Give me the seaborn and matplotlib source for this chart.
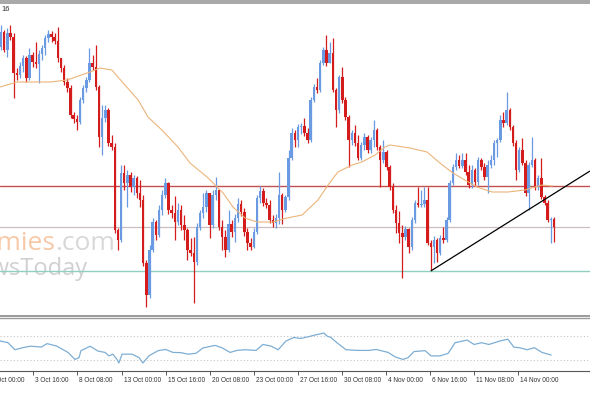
import numpy as np
import pandas as pd
import matplotlib
matplotlib.use("Agg")
import matplotlib.pyplot as plt
import matplotlib.transforms as mtransforms
from matplotlib.patches import Rectangle
import seaborn as sns

sns.set_style("white")
plt.rcParams['font.family'] = ['Liberation Sans', 'DejaVu Sans']

# ---------------- data (price units, arbitrary scale) ----------------
first_open = 273
close = [288, 270, 287, 283, 247, 245, 254, 262, 242, 265, 258, 256, 266, 272, 282, 286, 283, 279, 262, 252,
         238, 232, 205, 201, 198, 220, 232, 240, 257, 253, 233, 183, 202, 210, 177, 173, 90, 80, 147, 137,
         145, 133, 142, 127, 120, 57, 25, 70, 98, 85, 110, 125, 137, 110, 107, 98, 110, 95, 90, 70,
         67, 58, 93, 107, 113, 127, 95, 125, 130, 93, 83, 70, 96, 88, 102, 116, 108, 88, 77, 73,
         88, 122, 129, 117, 115, 100, 97, 102, 125, 110, 123, 162, 187, 180, 193, 194, 187, 180, 220, 233,
         230, 257, 270, 257, 267, 230, 210, 243, 220, 203, 180, 187, 177, 162, 175, 183, 170, 180, 190, 173,
         160, 168, 153, 133, 110, 97, 87, 83, 91, 73, 100, 117, 115, 116, 120, 77, 73, 80, 67, 82,
         80, 100, 137, 153, 160, 154, 160, 148, 135, 150, 138, 160, 153, 143, 155, 160, 177, 180, 200, 197,
         210, 193, 177, 150, 170, 157, 127, 155, 160, 133, 142, 123, 117, 100, 101, 93]
high = [295, 290, 292, 295, 287, 252, 258, 265, 264, 272, 268, 278, 270, 275, 285, 290, 289, 287, 293, 262,
        255, 242, 235, 208, 205, 223, 235, 243, 272, 265, 275, 235, 215, 215, 212, 185, 177, 92, 155, 155,
        150, 148, 145, 144, 140, 125, 60, 75, 102, 100, 115, 130, 142, 138, 115, 124, 117, 115, 105, 92,
        82, 83, 97, 110, 127, 130, 125, 130, 143, 130, 100, 90, 110, 100, 106, 122, 120, 112, 92, 82,
        92, 125, 134, 132, 122, 120, 105, 106, 148, 127, 125, 170, 192, 190, 196, 197, 202, 192, 223, 236,
        242, 260, 273, 285, 278, 282, 232, 245, 253, 223, 205, 190, 195, 185, 178, 187, 185, 183, 200, 192,
        175, 180, 170, 155, 137, 115, 109, 95, 94, 92, 103, 120, 133, 130, 133, 133, 80, 84, 82, 85,
        93, 103, 140, 156, 167, 165, 167, 167, 155, 155, 152, 163, 162, 157, 160, 165, 180, 182, 205, 208,
        228, 212, 195, 180, 173, 182, 160, 158, 183, 162, 145, 162, 125, 120, 103, 103]
low = [270, 268, 263, 280, 222, 240, 242, 248, 238, 240, 253, 252, 237, 260, 265, 278, 278, 276, 258, 248,
       235, 228, 202, 197, 190, 196, 217, 228, 238, 250, 230, 173, 165, 198, 174, 170, 87, 70, 78, 130,
       113, 128, 125, 122, 113, 54, 13, 22, 68, 80, 83, 105, 122, 106, 102, 80, 95, 90, 80, 60,
       64, 17, 55, 90, 102, 108, 82, 92, 120, 90, 70, 63, 68, 83, 78, 98, 104, 84, 70, 70,
       72, 86, 117, 114, 112, 97, 93, 92, 96, 96, 108, 120, 160, 173, 173, 186, 184, 177, 178, 218,
       227, 228, 255, 254, 257, 228, 193, 207, 217, 200, 153, 175, 174, 160, 160, 170, 167, 167, 173, 170,
       133, 157, 150, 130, 107, 87, 77, 42, 80, 67, 70, 97, 113, 113, 113, 75, 50, 57, 58, 65,
       77, 78, 98, 135, 150, 152, 152, 145, 132, 132, 134, 135, 150, 140, 127, 152, 155, 163, 178, 193,
       195, 190, 174, 140, 148, 155, 124, 110, 153, 130, 130, 121, 115, 98, 77, 78]

# moving average (sampled along the bars)
ma_idx = [-0.3, 5.1, 15.5, 20.9, 28.2, 31.3, 35.1, 37.0, 43.4, 46.5, 50.9, 56.0, 59.8, 65.2, 70.3, 73.4,
          77.2, 81.0, 86.1, 90.5, 95.3, 100.3, 103.5, 106.6, 111.1, 114.2, 118.4, 121.5, 123.1, 129.4,
          134.8, 138.9, 143.0, 148.4, 150.6, 155.4, 160.4, 165.8, 171.2, 174.4]
ma_val = [233, 238, 238, 240, 248, 252, 250, 243, 220, 203, 190, 173, 157, 143, 127, 113,
          102, 98, 98, 102, 105, 120, 135, 148, 155, 158, 165, 173, 175, 172,
          168, 157, 147, 137, 133, 128, 128, 130, 135, 134]

# oscillator in the lower pane
osc_idx = [-0.3, 2.2, 4.4, 6.8, 9.2, 12.8, 14.6, 17.6, 21.2, 23.4, 24.7, 25.3, 28.2, 30.7, 32.9, 34.2,
           35.4, 36.7, 37.3, 38.3, 41.5, 43.7, 44.9, 46.8, 49.7, 52.1, 54.4, 56.9, 59.2, 61.7, 63.9,
           67.7, 69.9, 72.5, 74.7, 77.2, 80.7, 82.9, 85.4, 87.7, 90.2, 92.7, 94.9, 97.5, 99.7, 102.2,
           103.2, 104.4, 106.3, 109.2, 112.8, 116.5, 118.7, 122.5, 124.7, 127.2, 128.8, 130.7, 134.2,
           136.1, 138.9, 141.5, 143.7, 147.5, 149.7, 152.1, 154.4, 157.9, 160.4, 162.3, 164.1, 166.5,
           168.8, 171.2, 174.1]
osc_val = [62.0, 59.1, 47.5, 50.8, 53.3, 52.0, 57.6, 53.6, 43.1, 31.5, 34.4, 46.0, 53.3, 45.3, 43.1, 37.3,
           40.2, 31.5, 25.6, 40.2, 40.2, 34.4, 25.6, 37.3, 46.0, 48.0, 43.1, 42.7, 40.2, 41.6, 50.4,
           54.7, 50.8, 43.1, 46.4, 47.5, 46.4, 56.2, 53.6, 47.5, 62.0, 67.8, 66.1, 69.3, 72.2, 75.1,
           70.0, 67.8, 59.1, 47.5, 46.4, 46.4, 48.0, 43.1, 35.8, 31.5, 34.4, 44.5, 46.0,
           37.3, 37.3, 41.6, 59.1, 63.5, 56.2, 59.1, 56.2, 62.0, 64.9, 51.8, 50.8, 47.5,
           50.8, 43.1, 38.7]
osc_levels = [70, 30]

resistance = 134
mid_level = 93
support = 49
trend_idx = [136, 186.4]
trend_val = [49, 149]

tick_pos = [-3.8, 10.1, 24.1, 38.3, 52.2, 66.1, 80.1, 94.0, 107.9, 121.8, 135.8, 149.7, 163.6]
tick_labels = ["2 Oct 00:00", "3 Oct 16:00", "8 Oct 08:00", "13 Oct 00:00", "15 Oct 16:00",
               "20 Oct 08:00", "23 Oct 00:00", "27 Oct 16:00", "30 Oct 08:00", "4 Nov 00:00",
               "6 Nov 16:00", "11 Nov 08:00", "14 Nov 00:00"]

# ---------------- layout ----------------
W, H = 590, 393
fig = plt.figure(figsize=(W / 100, H / 100), dpi=100, facecolor='white')
ax = fig.add_axes([0, 1 - 316 / H, 1, (316 - 7) / H])
ax2 = fig.add_axes([0, 1 - 371 / H, 1, (371 - 318) / H])

close = np.array(close, float)
high = np.array(high, float)
low = np.array(low, float)
n = len(close)
idx = np.arange(n)
open_ = np.r_[first_open, close[:-1]]
high = np.maximum(high, np.maximum(open_, close))
low = np.minimum(low, np.minimum(open_, close))
df = pd.DataFrame(dict(i=idx, o=open_, c=close, h=high, l=low))
df['up'] = df.c >= df.o

BLUE = '#6a9ae2'
RED = '#d41c1c'
cols = np.where(df.up, BLUE, RED)

step = 553 / (n - 1)            # pixels per bar
x0 = -1 / step
x1 = 589 / step
for a in (ax, ax2):
    a.set_xlim(x0, x1)
    a.set_facecolor('none')

ax.set_ylim(4, 313)

# horizontal levels
ax.axhline(resistance, color='#c25050', lw=1.0, zorder=1)
ax.axhline(mid_level, color='#cdbdbd', lw=0.9, zorder=1)
ax.axhline(support, color='#8fd0c0', lw=1.0, zorder=1)

# candles
ax.vlines(df.i, df.l, df.h, colors=cols, lw=0.9, zorder=3)
body_b = np.minimum(df.o, df.c)
body_h = np.maximum(np.abs(df.c - df.o), 0.8)
ax.bar(df.i, body_h, bottom=body_b, width=0.78, color=cols, linewidth=0, zorder=4)

# moving average
sns.lineplot(x=ma_idx, y=ma_val, ax=ax, color='#ebb57a', lw=0.8, zorder=5)

# trend line
ax.plot(trend_idx, trend_val, color='black', lw=0.9, zorder=6, solid_capstyle='butt')

# watermark
ax.text(55 / W, (316 - 250) / 309, "economies", transform=ax.transAxes, ha='right', va='baseline',
        fontsize=19, color='#f6c8a6', family='Open Sans', zorder=0.5)
ax.text(55 / W, (316 - 250) / 309, ".com", transform=ax.transAxes, ha='left', va='baseline',
        fontsize=19, color='#d8d8d8', family='Open Sans', zorder=0.5)
ax.text(88 / W, (316 - 275) / 309, "FXNewsToday", transform=ax.transAxes, ha='right', va='baseline',
        fontsize=17, color='#d0d0d0', family='Open Sans', zorder=0.5)

ax.set_xticks([])
ax.set_yticks([])
for s in ('top', 'left', 'right'):
    ax.spines[s].set_visible(False)
ax.spines['bottom'].set_color('#8a8a8a')
ax.spines['bottom'].set_linewidth(1.2)

# oscillator pane
sns.lineplot(x=osc_idx, y=osc_val, ax=ax2, color='#7eaed4', lw=0.9)
for lv in osc_levels:
    ax2.axhline(lv, color='#c4c4c4', lw=0.8, ls=(0, (1, 2)), zorder=0)
ax2.set_ylim(12.4, 99.9)
ax2.set_yticks([])
for s in ('left', 'right'):
    ax2.spines[s].set_visible(False)
ax2.spines['top'].set_color('#9a9a9a')
ax2.spines['top'].set_linewidth(1.0)
ax2.spines['bottom'].set_color('#555555')
ax2.spines['bottom'].set_linewidth(0.8)
ax2.set_xlabel('')
ax2.set_ylabel('')
ax.set_xlabel('')
ax.set_ylabel('')

inside = [(p, l) for p, l in zip(tick_pos, tick_labels) if p >= x0]
outside = [(p, l) for p, l in zip(tick_pos, tick_labels) if p < x0]
ax2.set_xticks([p for p, _ in inside])
ax2.set_xticklabels([l for _, l in inside])
ax2.tick_params(axis='x', direction='out', length=3, width=0.7, color='#555555', pad=1.5,
                labelsize=4.7, labelcolor='#333333', bottom=True)
offset = mtransforms.ScaledTranslation(2 / 100, 0, fig.dpi_scale_trans)
for lab in ax2.get_xticklabels():
    lab.set_horizontalalignment('left')
    lab.set_transform(lab.get_transform() + offset)
blend = mtransforms.blended_transform_factory(ax2.transData, ax2.transAxes)
for p, l in outside:
    ax2.text(p, -6.2 / 53, l, transform=blend + offset, ha='left', va='top',
             fontsize=4.7, color='#333333', clip_on=False)

# window chrome
fig.patches.append(Rectangle((0, 1 - 4 / H), 1, 4 / H, transform=fig.transFigure,
                             facecolor='#a9a9a9', edgecolor='none'))
fig.text(1 / W, 1 - 9.5 / H, "16", fontsize=5.5, va='center', ha='left', color='#333333')

fig.savefig('out.png', dpi=100, facecolor='white')
